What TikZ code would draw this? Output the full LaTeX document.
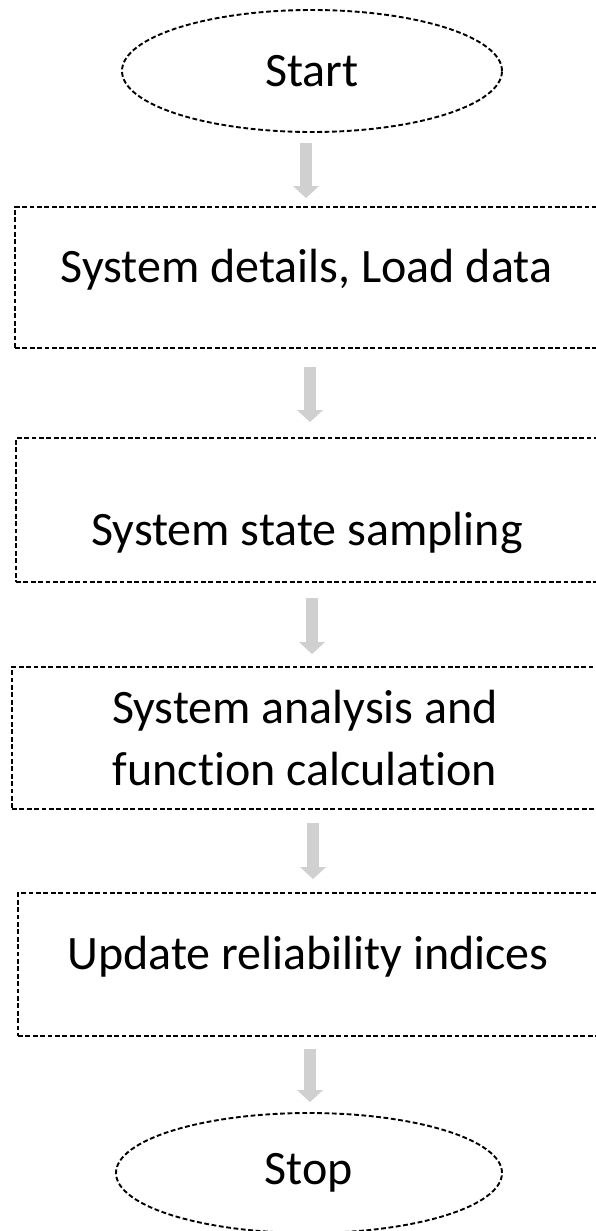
\documentclass[tikz,border=0pt]{standalone}
\usepackage{fontspec}
\setmainfont[Ligatures=NoCommon]{Carlito}
\usetikzlibrary{shapes.geometric,arrows.meta}
\definecolor{arrgray}{RGB}{208,208,208}
\tikzset{
  dsh/.style={draw=black, line width=1.9pt, dash pattern=on 4.8pt off 2.6pt},
  term/.style={dsh, ellipse, inner sep=0pt, font=\fontsize{48}{62}\selectfont},
  stepbox/.style={dsh, rectangle, inner sep=0pt, font=\fontsize{48}{62}\selectfont, align=center},
  flow/.style={draw=arrgray, line width=12pt, -{Triangle[width=26pt,length=12pt,line width=0pt,fill=arrgray]}}
}
\begin{document}
\begin{tikzpicture}[x=1pt,y=-1pt]
\useasboundingbox (0,0) rectangle (595,1231);
\node[term, minimum width=380pt, minimum height=122pt] (start) at (312,71) {Start};
\node[stepbox, minimum width=583pt, minimum height=141pt, text height=30pt, text depth=21pt] (b1) at (306.5,277.5) {System details, Load data};
\node[stepbox, minimum width=582pt, minimum height=144pt, text height=75pt, text depth=5pt] (b2) at (307,510) {System state sampling};
\node[stepbox, minimum width=586pt, minimum height=142pt] (b3) at (305,738) {System analysis and\\function calculation};
\node[stepbox, minimum width=580pt, minimum height=143pt, text height=30pt, text depth=21pt] (b4) at (308,964.5) {Update reliability indices};
\node[term, minimum width=386pt, minimum height=120pt] (stop) at (309,1173) {Stop};

\coordinate (a1) at ([xshift=-6pt]start.south);
\coordinate (a2) at ([xshift=3.5pt]b1.south);
\coordinate (a3) at ([xshift=5pt]b2.south);
\coordinate (a4) at ([xshift=8pt]b3.south);
\coordinate (a5) at ([xshift=2pt]b4.south);
\draw[flow, shorten <=10pt, shorten >=8pt] (a1) -- (a1 |- b1.north);
\draw[flow, shorten <=18pt, shorten >=15pt] (a2) -- (a2 |- b2.north);
\draw[flow, shorten <=15pt, shorten >=12pt] (a3) -- (a3 |- b3.north);
\draw[flow, shorten <=13pt, shorten >=13pt] (a4) -- (a4 |- b4.north);
\draw[flow, shorten <=12pt, shorten >=10pt] (a5) -- (a5 |- stop.north);
\end{tikzpicture}
\end{document}
